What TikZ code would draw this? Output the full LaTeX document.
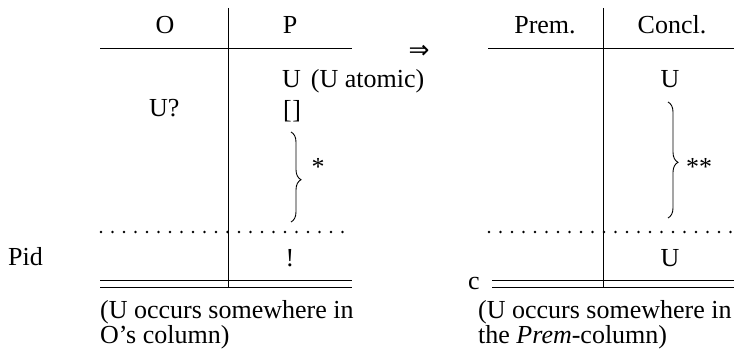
\documentclass[tikz,border=0pt]{standalone}
\usepackage{fontspec}
\setmainfont{Liberation Serif}
\newfontfamily\djvfont{DejaVu Sans}
\usetikzlibrary{decorations.pathreplacing}
\begin{document}
\begin{tikzpicture}[x=1pt,y=-1pt,
  txt/.style={font=\fontsize{26}{30}\selectfont, inner sep=0pt, anchor=base},
  rulel/.style={line width=0.8pt},
  dotl/.style={line width=2.6pt, line cap=round, dash pattern=on 0pt off 11.5pt},
  brc/.style={decorate, decoration={brace, amplitude=10pt, aspect=#1}, line width=0.9pt}]
\useasboundingbox (0,0) rectangle (734,353);
% ---------- left table ----------
\coordinate (LvT) at (228,8);   \coordinate (LvB) at (228,287);
\coordinate (LtA) at (100,48);  \coordinate (LtB) at (352,48);
\coordinate (LdA) at (101,232); \coordinate (LdB) at (352,232);
\coordinate (L1A) at (100,280); \coordinate (L1B) at (352,280);
\coordinate (L2A) at (100,287); \coordinate (L2B) at (352,287);
\draw[rulel] (LvT) -- (LvB);
\draw[rulel] (LtA) -- (LtB);
\draw[dotl] (LdA) -- (LdB);
\draw[rulel] (L1A) -- (L1B);
\draw[rulel] (L2A) -- (L2B);
\node[txt] (O) at (165,34) {O};
\node[txt] (P) at (290,34) {P};
\node[txt, anchor=base west] (Ua) at (282,88) {U\hspace{10pt}(U atomic)};
\node[txt, anchor=base west] (Uq) at (149,116) {U?};
\node[txt, anchor=base west] (box) at (283,118) {[\kern0.5pt]};
\coordinate (bLt) at (291,132); \coordinate (bLb) at (291,222);
\draw[brc=0.53] (bLt) -- (bLb);
\node[txt] (st) at (318,175) {*};
\node[txt, anchor=base west] (Pid) at (8,265) {Pid};
\node[txt] (ex) at (290,266) {!};
\node[txt, anchor=base west] (capL1) at (100,318) {(U occurs somewhere in};
\node[txt, anchor=base west] (capL2) at (100,343) {O’s column)};
% ---------- arrow ----------
\node[inner sep=0pt, font=\djvfont\fontsize{25}{28}\selectfont] (imp) at (419,52) {⇒};
% ---------- right table ----------
\coordinate (RvT) at (603,8);   \coordinate (RvB) at (603,288);
\coordinate (RtA) at (488,48);  \coordinate (RtB) at (734,48);
\coordinate (RdA) at (489,232); \coordinate (RdB) at (734,232);
\coordinate (R1A) at (492,280); \coordinate (R1B) at (734,280);
\coordinate (R2A) at (492,287); \coordinate (R2B) at (734,287);
\draw[rulel] (RvT) -- (RvB);
\draw[rulel] (RtA) -- (RtB);
\draw[dotl] (RdA) -- (RdB);
\draw[rulel] (R1A) -- (R1B);
\draw[rulel] (R2A) -- (R2B);
\node[txt] (Prem) at (545,34) {Prem.};
\node[txt] (Concl) at (672,34) {Concl.};
\node[txt] (Ur) at (670,88) {U};
\coordinate (bRt) at (668,102); \coordinate (bRb) at (668,218);
\draw[brc=0.52] (bRt) -- (bRb);
\node[txt] (sst) at (699,175) {**};
\node[txt] (Ur2) at (670,266) {U};
\node[txt] (c) at (474,289) {c};
\node[txt, anchor=base west] (capR1) at (478,318) {(U occurs somewhere in};
\node[txt, anchor=base west] (capR2) at (478,343) {the \textit{Prem}-column)};
\end{tikzpicture}
\end{document}
